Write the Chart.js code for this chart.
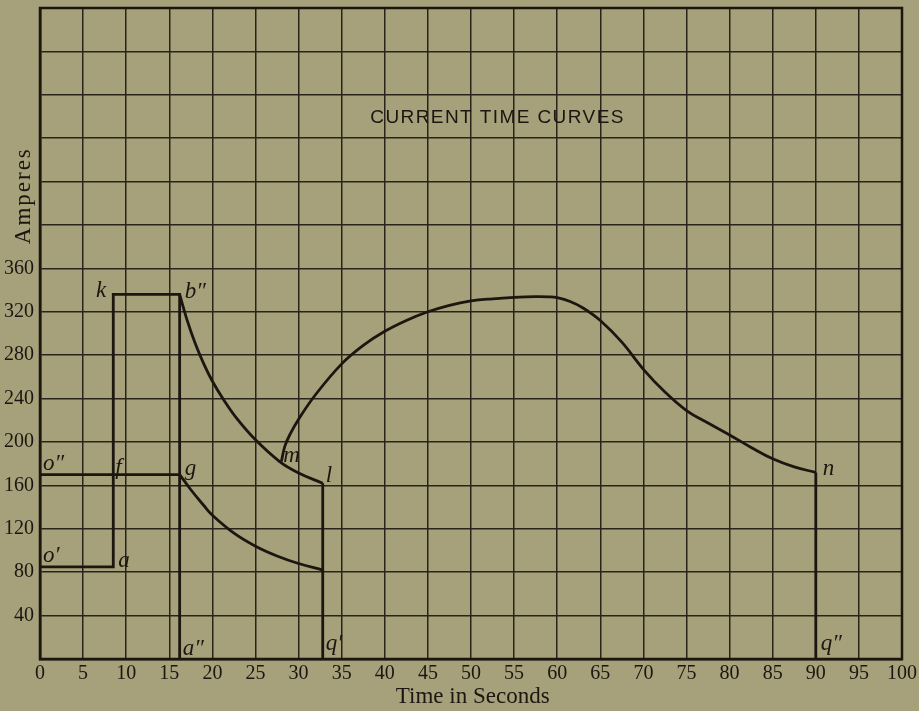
<!DOCTYPE html>
<html>
<head>
<meta charset="utf-8">
<title>Current Time Curves</title>
<script src="https://cdn.jsdelivr.net/npm/chart.js@4/dist/chart.umd.min.js"></script>
<style>
  html, body { margin: 0; padding: 0; background: #a6a07b; }
  #wrap { width: 919px; height: 711px; }
</style>
</head>
<body>
<div id="wrap"><canvas id="c" width="919" height="711"></canvas></div>
<script>
// ---- data (time in seconds, current in amperes) ----
// rectangular part o' a k b'' a''
const stepTimes = [0, 8.5, 8.5, 16.2, 16.2];
const stepAmps  = [85, 85, 336, 336, 0];
// o'' f g level
const levelTimes = [0, 16.2];
const levelAmps  = [170, 170];
// b'' -> m -> l falling curve
const fallTimes = [16.2, 17, 18, 19, 20, 21.3, 22.8, 25, 27.8, 30, 32.8];
const fallAmps  = [336, 314, 291, 272, 256, 239, 222, 202, 182, 171.5, 162];
// g -> lower falling curve
const lowTimes = [16.2, 17.5, 19, 20, 22.5, 25, 27.5, 30, 32.8];
const lowAmps  = [170, 156, 141.5, 132.5, 116, 104, 95, 88, 82];
// m -> n curve
const riseTimes = [28, 28.4, 29, 30, 32, 35, 37.5, 40, 42.5, 45, 47.5, 50, 52.5, 55, 57.5, 59, 60,
                   61.5, 63, 65, 67.5, 70, 72.5, 75, 77.5, 80, 82.5, 85, 87.5, 90];
const riseAmps  = [182, 196, 207, 221, 244, 272, 289, 302, 312, 320, 326, 330, 332, 333.3, 334, 333.8, 333,
                   329.5, 323.5, 312, 292, 267, 246, 229, 217.5, 206.5, 195, 184.5, 177, 172];
// cut-off drops l q' and n q''
const dropLTimes = [32.8, 32.8];
const dropLAmps  = [162, 0];
const dropNTimes = [90, 90];
const dropNAmps  = [172, 0];

// tick labels
const xTickLabels = [0, 5, 10, 15, 20, 25, 30, 35, 40, 45, 50, 55, 60, 65, 70, 75, 80, 85, 90, 95, 100];
const yTickLabels = [40, 80, 120, 160, 200, 240, 280, 320, 360];

// lettered points
const pointNames = ["o\u2032", "a", "o\u2033", "f", "k", "b\u2033", "g", "m", "l", "a\u2033", "q\u2032", "q\u2033", "n"];
const pointTimes = [0, 8.5, 0, 8.5, 8.5, 16.2, 16.2, 28, 32.8, 16.2, 32.8, 90, 90];
const pointAmps  = [85, 85, 170, 170, 336, 336, 170, 182, 162, 0, 0, 0, 172];

const titleText = "CURRENT TIME CURVES";
const xTitle = "Time in Seconds";
const yTitle = "Amperes";

const BG = '#a6a07b';
const INK = '#1b160f';
const GRID = '#29241a';

const pts = (xs, ys) => xs.map((x, i) => ({ x: x, y: ys[i] }));

function series(xs, ys, curved) {
  return {
    data: pts(xs, ys),
    showLine: true,
    borderColor: INK,
    borderWidth: 2.8,
    pointRadius: 0,
    fill: false,
    tension: curved ? 0.4 : 0,
    borderJoinStyle: 'miter'
  };
}

// label placement relative to each lettered point (pixels)
const labelOffsets = {
  "o\u2032": [3, -5, 'left'],
  "a": [5, 0, 'left'],
  "o\u2033": [3, -5, 'left'],
  "f": [2, -1, 'left'],
  "k": [-7, 3, 'right'],
  "b\u2033": [5, 4, 'left'],
  "g": [5, 0, 'left'],
  "m": [2, 0, 'left'],
  "l": [3, -1, 'left'],
  "a\u2033": [3, -4, 'left'],
  "q\u2032": [3, -9, 'left'],
  "q\u2033": [5, -9, 'left'],
  "n": [7, 3, 'left']
};

const paper = {
  id: 'paper',
  beforeDraw(chart) {
    const ctx = chart.ctx;
    ctx.save();
    ctx.fillStyle = BG;
    ctx.fillRect(0, 0, chart.width, chart.height);
    ctx.restore();
  },
  afterDraw(chart) {
    const ctx = chart.ctx;
    const xs = chart.scales.x, ys = chart.scales.y;
    const a = chart.chartArea;
    ctx.save();
    // frame
    ctx.strokeStyle = INK;
    ctx.lineWidth = 2.5;
    ctx.strokeRect(a.left, a.top, a.right - a.left, a.bottom - a.top);

    // heading inside the grid
    ctx.fillStyle = INK;
    ctx.font = '19px "Liberation Sans", Arial, sans-serif';
    ctx.textAlign = 'center';
    ctx.textBaseline = 'middle';
    const tw = ctx.measureText(titleText).width;
    const spacing = Math.max(0, (253 - tw) / (titleText.length - 1));
    ctx.letterSpacing = spacing.toFixed(2) + 'px';
    ctx.fillText(titleText, xs.getPixelForValue(53) + spacing / 2, ys.getPixelForValue(500) + 1);
    ctx.letterSpacing = '0px';

    // axis titles
    ctx.font = '23px "Liberation Serif", "DejaVu Serif", serif';
    ctx.textAlign = 'center';
    ctx.textBaseline = 'alphabetic';
    ctx.fillText(xTitle, xs.getPixelForValue(50.2), 703);
    ctx.save();
    ctx.translate(30, ys.getPixelForValue(427));
    ctx.rotate(-Math.PI / 2);
    ctx.letterSpacing = '2px';
    ctx.fillText(yTitle, 0, 0);
    ctx.restore();

    // point letters
    ctx.font = 'italic 23px "Liberation Serif", "DejaVu Serif", serif';
    ctx.textBaseline = 'alphabetic';
    pointNames.forEach((name, i) => {
      const o = labelOffsets[name];
      ctx.textAlign = o[2];
      ctx.fillText(name, xs.getPixelForValue(pointTimes[i]) + o[0], ys.getPixelForValue(pointAmps[i]) + o[1]);
    });
    ctx.restore();
  }
};

new Chart(document.getElementById('c'), {
  type: 'scatter',
  data: {
    datasets: [
      series(stepTimes, stepAmps, false),
      series(levelTimes, levelAmps, false),
      series(fallTimes, fallAmps, true),
      series(lowTimes, lowAmps, true),
      series(riseTimes, riseAmps, true),
      series(dropLTimes, dropLAmps, false),
      series(dropNTimes, dropNAmps, false)
    ]
  },
  options: {
    responsive: false,
    animation: false,
    devicePixelRatio: 1,
    layout: { padding: { top: 8, right: 17, left: 0, bottom: 0 } },
    plugins: { legend: { display: false }, tooltip: { enabled: false } },
    scales: {
      x: {
        type: 'linear',
        min: 0, max: 100,
        afterFit(s) { s.height = 52; s.paddingLeft = 0; s.paddingRight = 0; },
        afterBuildTicks(s) { s.ticks = xTickLabels.map(v => ({ value: v })); },
        ticks: {
          color: INK,
          padding: 3,
          maxRotation: 0,
          autoSkip: false,
          font: { family: '"Liberation Serif", "DejaVu Serif", serif', size: 20 }
        },
        grid: { color: GRID, lineWidth: 1.5, drawTicks: false },
        border: { display: true, color: INK, width: 2.5 }
      },
      y: {
        type: 'linear',
        min: 0, max: 600,
        afterFit(s) { s.width = 40; s.paddingTop = 0; s.paddingBottom = 0; },
        afterBuildTicks(s) {
          const t = [];
          for (let v = 0; v <= 600; v += 40) t.push({ value: v });
          s.ticks = t;
        },
        ticks: {
          color: INK,
          padding: 6,
          autoSkip: false,
          callback: v => yTickLabels.includes(v) ? String(v) : '',
          font: { family: '"Liberation Serif", "DejaVu Serif", serif', size: 20 }
        },
        grid: { color: GRID, lineWidth: 1.5, drawTicks: false },
        border: { display: true, color: INK, width: 2.5 }
      }
    }
  },
  plugins: [paper]
});
</script>
</body>
</html>
